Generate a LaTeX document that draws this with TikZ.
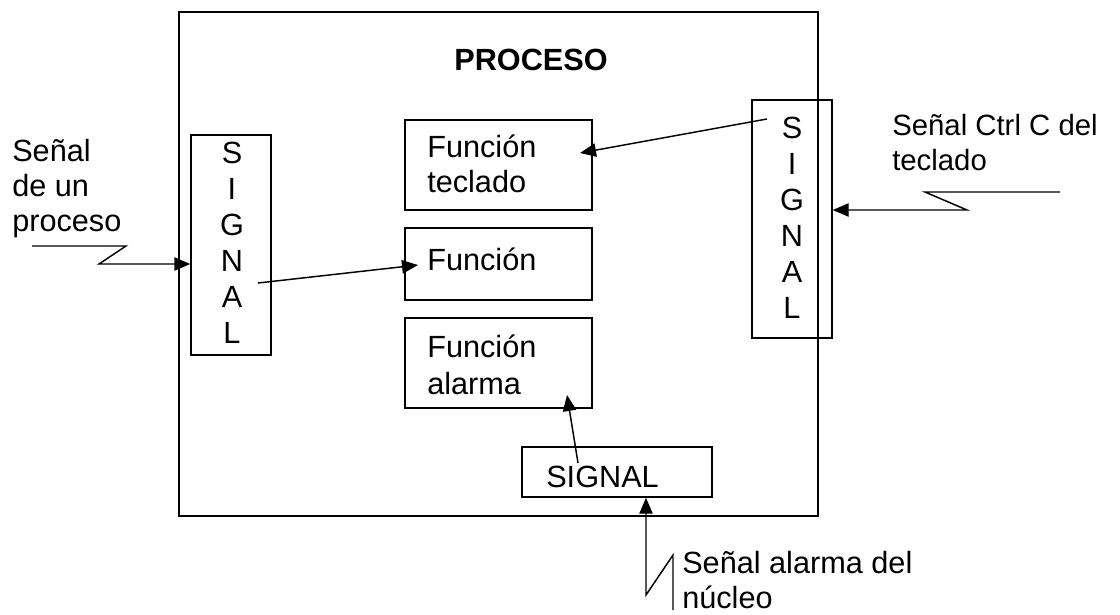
\documentclass[tikz,border=0pt]{standalone}
\usepackage{fontspec}
\setmainfont{Liberation Sans}
\usetikzlibrary{arrows.meta,fit}
\begin{document}
\begin{tikzpicture}[x=0.75pt,y=-0.75pt,
  box/.style={draw, line width=1.1pt, rectangle, inner sep=0pt},
  txt/.style={inner sep=0pt, font=\fontsize{23}{26}\selectfont},
  rtxt/.style={inner sep=0pt, font=\fontsize{22}{26}\selectfont},
  arr/.style={line width=1.1pt, -{Triangle[length=12pt,width=10pt]}}]
\useasboundingbox (0,0) rectangle (1120,614);
% boxes
\node[box, line width=1.5pt, fit={(179,12) (818,516)}] (proc) {};
\node[box, fit={(191,135) (271,355)}] (lsig) {};
\node[box, fit={(752,100) (832,338)}] (rsig) {};
\node[box, fit={(405,120) (592,210)}] (ft) {};
\node[box, fit={(405,228) (592,300)}] (fn) {};
\node[box, fit={(405,318) (592,408)}] (fa) {};
\node[box, fit={(522,447) (712,497)}] (bsig) {};
% texts
\node[txt, anchor=base, font=\fontsize{23}{26}\selectfont\bfseries] (tproc) at (531,70) {PROCESO};
\node[txt, anchor=base west] (tl1) at (12,161) {Señal};
\node[txt, anchor=base west] (tl2) at (12,196) {de un};
\node[txt, anchor=base west] (tl3) at (12,231) {proceso};
\node[rtxt, anchor=base west] (tr1) at (892,135) {Señal Ctrl C del};
\node[rtxt, anchor=base west] (tr2) at (892,170) {teclado};
\node[txt, anchor=base west] (tb1) at (682,573) {Señal alarma del};
\node[txt, anchor=base west] (tb2) at (682,608) {núcleo};
\node[txt, anchor=base west] (tft1) at (427,157) {Función};
\node[txt, anchor=base west] (tft2) at (427,192) {teclado};
\node[txt, anchor=base west] (tfn) at (427,270) {Función};
\node[txt, anchor=base west] (tfa1) at (427,357) {Función};
\node[txt, anchor=base west] (tfa2) at (427,394) {alarma};
\node[txt, anchor=base west] (tbs) at (546,487) {SIGNAL};
\foreach \l [count=\i] in {S,I,G,N,A,L} {
  \node[txt, anchor=base] (lsig\i) at (232,163+36*\i-36) {\l};
  \node[txt, anchor=base] (rsig\i) at (792,138+36*\i-36) {\l};
}
% connector points
\coordinate (zl) at (32,246);
\coordinate (zr) at (1060,192);
\coordinate (zb) at (673,610);
\coordinate (a1s) at (258,283);
\coordinate (a1e) at (418,265);
\coordinate (a2s) at (767,119);
\coordinate (a2e) at (580,153);
\coordinate (a3s) at (578,463);
\coordinate (a3e) at (567,395);
% lightning inputs
\draw[arr] (zl) -- (126,246) -- (99,264) -- (lsig.west |- 99,264);
\draw[arr] (zr) -- (925,192) -- (967,210) -- (rsig.east |- 967,210);
\draw[arr] (zb) -- (673,555) -- (646,595) -- (bsig.south -| 646,595);
% internal arrows
\draw[arr] (a1s) -- (a1e);
\draw[arr] (a2s) -- (a2e);
\draw[arr] (a3s) -- (a3e);
\end{tikzpicture}
\end{document}
